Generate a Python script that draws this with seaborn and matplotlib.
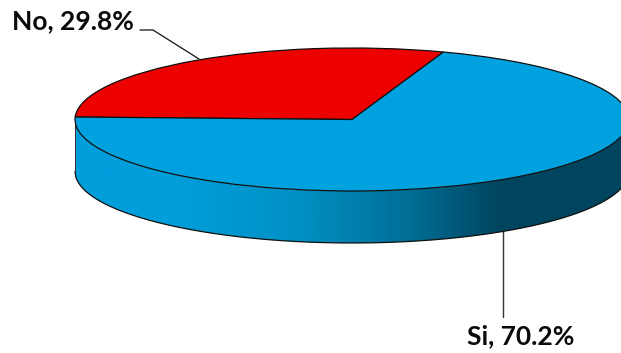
import numpy as np
import matplotlib
matplotlib.use("Agg")
import matplotlib.pyplot as plt
from matplotlib.colors import ListedColormap
from matplotlib.patches import Polygon
import seaborn as sns

categories = ["No", "Si"]
shares = [29.8, 70.2]
slice_colors = ["#EC0000", "#00A1DF"]

W, H = 621, 353
CX, CY, RX, RY, DEPTH = 352, 119.5, 277, 71.5, 52

sns.set_theme(style="white")
plt.rcParams["font.family"] = ["Lato", "DejaVu Sans"]

fig = plt.figure(figsize=(W / 100, H / 100), dpi=100)
ax = fig.add_axes([0, 0, 1, 1])

start = 178 - shares[0] * 3.6
ax.pie(shares, colors=slice_colors, startangle=start, counterclock=True,
       wedgeprops=dict(edgecolor="#101010", linewidth=0.9, zorder=5))

xlim = ((0 - CX) / RX, (W - CX) / RX)
ylim = ((CY - H) / RY, CY / RY)


def px(x, y):
    return (x - CX) / RX, (CY - y) / RY


d = DEPTH / RY
xs = np.linspace(-1, 1, 701)
top = -np.sqrt(1 - xs ** 2)

# side wall: horizontal gradient clipped to the wall outline
grad_x = np.linspace(-1, 1, 600)
ramp = sns.blend_palette(["#009FDC", "#009FDC", "#0090C4", "#006E96", "#00455F", "#00455F"], 256)
pos = np.interp(grad_x, [px(75, 0)[0], px(170, 0)[0], px(300, 0)[0], px(410, 0)[0], px(500, 0)[0], 1.0],
                np.linspace(0, 1, 6))
img = ax.imshow(pos[None, :], cmap=ListedColormap(ramp), vmin=0, vmax=1,
                extent=(-1, 1, -1 - d, 0.03), aspect="auto", zorder=2)
outline = np.column_stack([np.r_[xs, xs[::-1]], np.r_[top, (top - d)[::-1]]])
clip = Polygon(outline, closed=True, transform=ax.transData, fc="none", ec="none")
ax.add_patch(clip)
img.set_clip_path(clip)

ax.plot(xs, top - d, color="#101010", lw=0.9, zorder=3)
ax.plot([-1, -1], [0.03, -d], color="#303030", lw=0.7, zorder=3)

ax.plot(*zip(px(140, 30), px(153, 30), px(199, 59)), color="#111111", lw=0.9, zorder=1)
ax.plot(*zip(px(503, 231), px(503, 317)), color="#333333", lw=1.0, zorder=1)

for cat, val, (tx, ty) in zip(categories, shares, [(12, 21), (467, 336)]):
    ax.text(*px(tx, ty), f"{cat}, {val}%", fontsize=19, fontweight="bold",
            color="#0A0A0A", ha="left", va="center", zorder=6)

ax.set_aspect("auto")
ax.set_xlim(*xlim)
ax.set_ylim(*ylim)
ax.axis("off")

fig.savefig("out.png", dpi=100)
